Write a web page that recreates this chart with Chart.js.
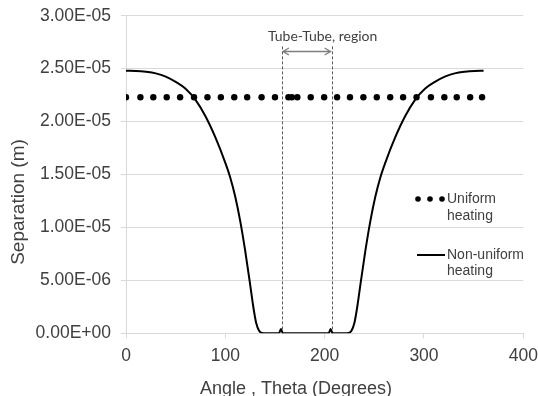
<!DOCTYPE html>
<html>
<head>
<meta charset="utf-8">
<script src="https://cdn.jsdelivr.net/npm/chart.js@4.4.0/dist/chart.umd.min.js"></script>
<style>
    html, body { margin: 0; padding: 0; background: #fff; }
    #chartBox { width: 538px; height: 396px; }
</style>
</head>
<body>
<div id="chartBox"><canvas id="myChart" width="538" height="396"></canvas></div>
<script>
// Valeurs
const uniformAngles = [0, 14.5, 27.5, 41, 54.5, 68.5, 82, 95.5, 109, 122, 136.5, 150, 163.5, 167,
    172.5, 186, 199.5, 212.5, 225.5, 239, 252.5, 266, 279, 292.5, 307, 320.5, 333, 346.5, 358.5];
const uniformSeparation = [2.23e-5, 2.23e-5, 2.23e-5, 2.23e-5, 2.23e-5, 2.23e-5, 2.23e-5, 2.23e-5,
    2.23e-5, 2.23e-5, 2.23e-5, 2.23e-5, 2.23e-5, 2.23e-5, 2.23e-5, 2.23e-5, 2.23e-5, 2.23e-5,
    2.23e-5, 2.23e-5, 2.23e-5, 2.23e-5, 2.23e-5, 2.23e-5, 2.23e-5, 2.23e-5, 2.23e-5, 2.23e-5, 2.23e-5];

const nonUniformAngles = [0, 10, 20, 30, 40, 50, 60, 70, 80, 90, 100, 105, 110, 115, 120, 125, 128, 131,
    134, 137, 140, 154, 156, 158, 204, 206, 208, 221, 224, 227, 230, 233, 236, 241, 246, 251, 256, 261,
    271, 281, 291, 301, 311, 321, 331, 341, 351, 360];
const nonUniformSeparation = [2.48e-5, 2.478e-5, 2.47e-5, 2.455e-5, 2.425e-5, 2.375e-5, 2.31e-5, 2.205e-5,
    2.05e-5, 1.85e-5, 1.61e-5, 1.47e-5, 1.29e-5, 1.06e-5, 7.8e-6, 4.6e-6, 2.6e-6, 1.0e-6,
    2.5e-7, 3e-8, 0, 0, 4e-7, 0, 0, 4e-7, 0, 0, 3e-8, 2.5e-7, 1.0e-6, 2.6e-6, 4.6e-6, 7.8e-6, 1.06e-5,
    1.29e-5, 1.47e-5, 1.61e-5, 1.85e-5, 2.05e-5, 2.205e-5, 2.31e-5, 2.375e-5, 2.425e-5, 2.455e-5,
    2.47e-5, 2.478e-5, 2.48e-5];

const xTickValues = [0, 100, 200, 300, 400];
const yTickValues = [0, 5e-6, 1e-5, 1.5e-5, 2e-5, 2.5e-5, 3e-5];

// zone Tube-Tube
const regionStart = 157;
const regionEnd = 207;
const regionTop = 2.71e-5;
const arrowLevel = 2.67e-5;
const regionLabel = 'Tube-Tube, region';
const regionLabelAngle = 198;
const regionLabelLevel = 2.8e-5;

const xTitle = 'Angle , Theta (Degrees)';
const yTitle = 'Separation (m)';
const legendUniform = ['Uniform', 'heating'];
const legendNonUniform = ['Non-uniform', 'heating'];

const textColor = '#404040';
const fontFamily = '"Liberation Sans", Arial, sans-serif';

function formatExp(value) {
    const parts = Number(value).toExponential(2).split('e');
    const exp = parseInt(parts[1], 10);
    const sign = exp < 0 ? '-' : '+';
    return parts[0] + 'E' + sign + String(Math.abs(exp)).padStart(2, '0');
}

const overlayPlugin = {
    id: 'overlay',
    beforeDatasetsDraw(chart) {
        const ctx = chart.ctx;
        const x = chart.scales.x;
        const y = chart.scales.y;
        ctx.save();
        // lignes pointillées
        ctx.strokeStyle = '#595959';
        ctx.lineWidth = 1;
        ctx.setLineDash([3, 2]);
        [regionStart, regionEnd].forEach(a => {
            const px = Math.round(x.getPixelForValue(a)) + 0.5;
            ctx.beginPath();
            ctx.moveTo(px, y.getPixelForValue(regionTop));
            ctx.lineTo(px, y.getPixelForValue(0));
            ctx.stroke();
        });
        ctx.setLineDash([]);

        // flèche double
        const ay = Math.round(y.getPixelForValue(arrowLevel)) + 0.5;
        const ax1 = x.getPixelForValue(regionStart) + 1;
        const ax2 = x.getPixelForValue(regionEnd) - 1;
        ctx.strokeStyle = '#7f7f7f';
        ctx.lineWidth = 1.3;
        ctx.beginPath();
        ctx.moveTo(ax1, ay);
        ctx.lineTo(ax2, ay);
        ctx.moveTo(ax1 + 6, ay - 3.5);
        ctx.lineTo(ax1, ay);
        ctx.lineTo(ax1 + 6, ay + 3.5);
        ctx.moveTo(ax2 - 6, ay - 3.5);
        ctx.lineTo(ax2, ay);
        ctx.lineTo(ax2 - 6, ay + 3.5);
        ctx.stroke();

        ctx.fillStyle = textColor;
        ctx.font = '14px Lato, "Open Sans", sans-serif';
        ctx.textAlign = 'center';
        ctx.textBaseline = 'middle';
        ctx.fillText(regionLabel, x.getPixelForValue(regionLabelAngle), y.getPixelForValue(regionLabelLevel));
        ctx.restore();
    },
    afterDraw(chart) {
        const ctx = chart.ctx;
        ctx.save();
        ctx.fillStyle = textColor;

        // titres des axes
        ctx.font = '18px ' + fontFamily;
        ctx.textAlign = 'center';
        ctx.textBaseline = 'alphabetic';
        ctx.fillText(xTitle, 296, 394);

        ctx.save();
        ctx.translate(19, 202);
        ctx.rotate(-Math.PI / 2);
        ctx.font = '19px ' + fontFamily;
        ctx.textBaseline = 'middle';
        ctx.fillText(yTitle, 0, 0);
        ctx.restore();

        // légende
        ctx.font = '14px ' + fontFamily;
        ctx.textAlign = 'left';
        ctx.textBaseline = 'middle';
        ctx.fillStyle = '#000';
        [418, 430, 442].forEach(px => {
            ctx.beginPath();
            ctx.arc(px, 199, 2.8, 0, Math.PI * 2);
            ctx.fill();
        });
        ctx.fillStyle = textColor;
        ctx.fillText(legendUniform[0], 447, 199);
        ctx.fillText(legendUniform[1], 447, 216);

        ctx.strokeStyle = '#000';
        ctx.lineWidth = 2;
        ctx.beginPath();
        ctx.moveTo(417, 255);
        ctx.lineTo(445, 255);
        ctx.stroke();
        ctx.fillText(legendNonUniform[0], 447, 255);
        ctx.fillText(legendNonUniform[1], 447, 271);
        ctx.restore();
    }
};

document.addEventListener('DOMContentLoaded', function() {
    const chartCanvas = document.getElementById('myChart');
    if (!chartCanvas) {
        console.error("Canvas introuvable");
        return;
    }
    const ctx = chartCanvas.getContext('2d');

    Chart.defaults.font.family = fontFamily;
    Chart.defaults.color = textColor;

    const uniformPoints = uniformAngles.map((a, i) => ({ x: a, y: uniformSeparation[i] }));
    const nonUniformPoints = nonUniformAngles.map((a, i) => ({ x: a, y: nonUniformSeparation[i] }));

    new Chart(ctx, {
        type: 'scatter',
        data: {
            datasets: [{
                label: 'Uniform heating',
                data: uniformPoints,
                showLine: false,
                pointRadius: 3.2,
                pointBackgroundColor: '#000',
                pointBorderWidth: 0,
                borderColor: '#000'
            }, {
                label: 'Non-uniform heating',
                data: nonUniformPoints,
                showLine: true,
                borderColor: '#000',
                borderWidth: 2,
                pointRadius: 0,
                cubicInterpolationMode: 'monotone'
            }]
        },
        options: {
            responsive: false,
            animation: false,
            devicePixelRatio: 1,
            layout: {
                padding: { top: 15.7, right: 14.7, bottom: 0, left: 0 }
            },
            plugins: {
                legend: { display: false },
                tooltip: { enabled: false }
            },
            scales: {
                x: {
                    type: 'linear',
                    min: 0,
                    max: 400,
                    afterBuildTicks: function(scale) {
                        scale.ticks = xTickValues.map(v => ({ value: v }));
                    },
                    afterFit: function(scale) {
                        scale.height = 62.7;
                        scale.paddingLeft = 0;
                        scale.paddingRight = 0;
                    },
                    grid: {
                        drawOnChartArea: false,
                        color: '#d9d9d9',
                        tickLength: 5
                    },
                    border: { color: '#d9d9d9' },
                    ticks: {
                        padding: 7,
                        font: { size: 17.5 },
                        color: textColor
                    }
                },
                y: {
                    type: 'linear',
                    min: 0,
                    max: 3e-5,
                    afterBuildTicks: function(scale) {
                        scale.ticks = yTickValues.map(v => ({ value: v }));
                    },
                    afterFit: function(scale) {
                        scale.width = 126;
                        scale.paddingTop = 0;
                        scale.paddingBottom = 0;
                    },
                    grid: {
                        color: '#d9d9d9',
                        tickLength: 5
                    },
                    border: { color: '#d9d9d9' },
                    ticks: {
                        padding: 10,
                        font: { size: 17.5 },
                        color: textColor,
                        callback: function(value) {
                            return formatExp(value);
                        }
                    }
                }
            }
        },
        plugins: [overlayPlugin]
    });
});
</script>
</body>
</html>
